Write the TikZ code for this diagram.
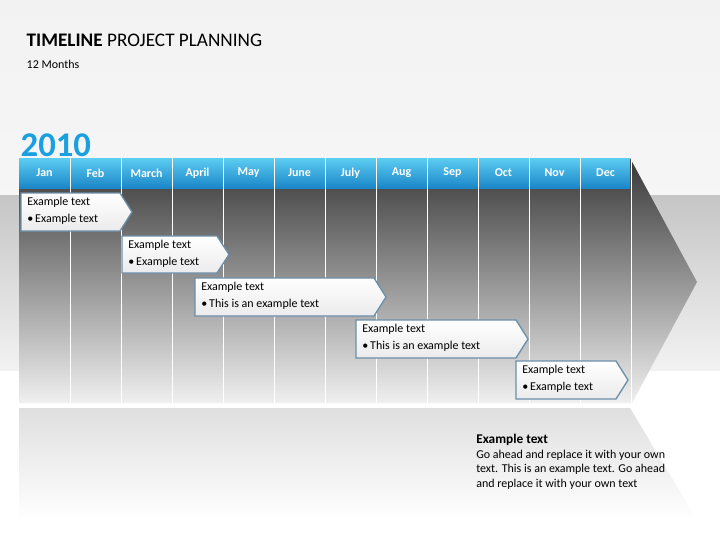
\documentclass[tikz,border=0pt]{standalone}
\usepackage{fontspec}
\setmainfont{Carlito}
\usetikzlibrary{positioning}
\definecolor{barblue}{HTML}{1B86C8}
\definecolor{barlight}{HTML}{5CCDF2}
\definecolor{yearblue}{HTML}{1AA0E0}
\definecolor{boxedge}{HTML}{6A8FAA}
\tikzset{
  month/.style={text=white,font=\bfseries\small},
  callout/.style={draw=boxedge,line width=1pt,top color=white,bottom color=blue!4!gray!15},
  calltext/.style={anchor=north west,font=\small,align=left,inner sep=0pt}
}
\begin{document}
\begin{tikzpicture}[x=0.75pt,y=-0.75pt]
\useasboundingbox (0,0) rectangle (720,540);
% background
\shade[top color=gray!10,bottom color=gray!5] (0,0) rectangle (720,370);
\fill[white] (0,370) rectangle (720,540);
\shade[top color=gray!45,bottom color=gray!10] (0,195) rectangle (720,370);
% reflection
\shade[top color=gray!25,bottom color=white] (19,408) -- (630,408) -- (697,520) -- (19,520) -- cycle;
% main arrow
\shade[top color=black!78,bottom color=gray!12] (19,158) -- (630,158) -- (697,282) -- (632,403) -- (19,403) -- cycle;
\shade[top color=barlight,bottom color=barblue] (19,158) rectangle (630,188);
% months
\foreach \m [count=\i] in {Jan,Feb,March,April,May,June,July,Aug,Sep,Oct,Nov,Dec}{
  \node[month] (m\i) at ({19+51*(\i-0.5)},173) {\m};
  \draw[white,line width=0.6pt] ({19+51*\i},158) -- ({19+51*\i},403);
}
% titles
\node[anchor=west,font=\Large] (title) at (22,40) {\textbf{TIMELINE} PROJECT PLANNING};
\node[anchor=west,font=\small] (sub) at (22,64) {12 Months};
\node[anchor=west,font=\bfseries\fontsize{26}{26}\selectfont,text=yearblue] (year) at (16,145) {2010};
% callouts
\foreach \xa/\xb/\ya/\yb/\t [count=\k] in {21/120/193/231/Example text,122/217/236/273/Example text,195/374/278/316/This is an example text,356/516/320/358/This is an example text,516/616/361/399/Example text}{
  \draw[callout] (\xa,\ya) -- (\xb,\ya) -- ({\xb+12},{(\ya+\yb)/2}) -- (\xb,\yb) -- (\xa,\yb) -- cycle;
  \node[calltext] (c\k) at ({\xa+6},{\ya+4}) {Example text\\[2pt]\textbullet\,\t};
}
% note
\node[anchor=north west,font=\small,align=left,inner sep=0pt] (note) at (476,434)
  {{\bfseries\normalsize Example text}\\Go ahead and replace it with your own\\text. This is an example text. Go ahead\\and replace it with your own text};
\end{tikzpicture}
\end{document}
